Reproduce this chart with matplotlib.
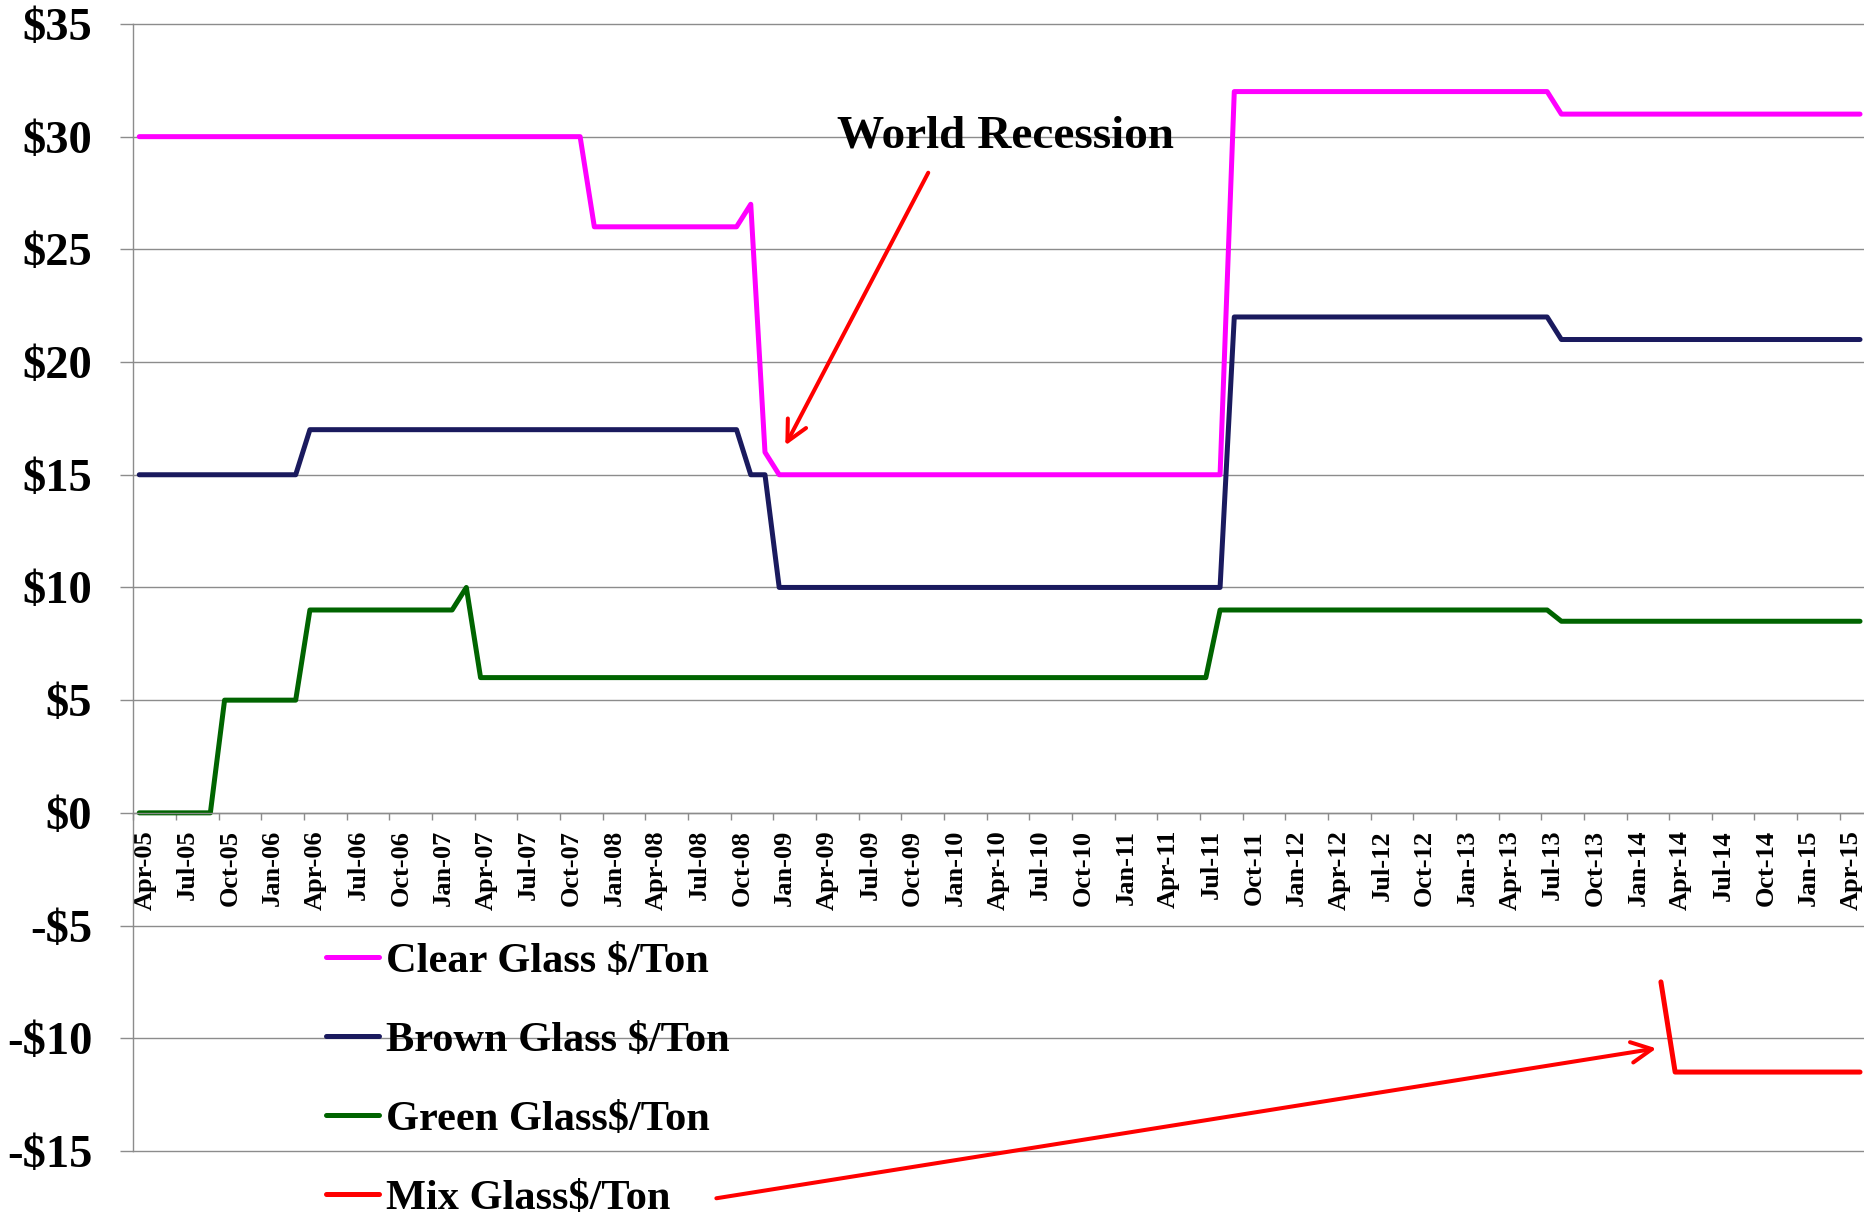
import numpy as np
import matplotlib
matplotlib.use('Agg')
import matplotlib.pyplot as plt

# quarterly tick labels on the category axis
tick_labels = ['Apr-05', 'Jul-05', 'Oct-05', 'Jan-06', 'Apr-06', 'Jul-06', 'Oct-06',
               'Jan-07', 'Apr-07', 'Jul-07', 'Oct-07', 'Jan-08', 'Apr-08', 'Jul-08',
               'Oct-08', 'Jan-09', 'Apr-09', 'Jul-09', 'Oct-09', 'Jan-10', 'Apr-10',
               'Jul-10', 'Oct-10', 'Jan-11', 'Apr-11', 'Jul-11', 'Oct-11', 'Jan-12',
               'Apr-12', 'Jul-12', 'Oct-12', 'Jan-13', 'Apr-13', 'Jul-13', 'Oct-13',
               'Jan-14', 'Apr-14', 'Jul-14', 'Oct-14', 'Jan-15', 'Apr-15']

# monthly prices, Apr-05 .. May-15 (one row = Apr..Mar)
clear_glass = [
    30, 30, 30, 30, 30, 30, 30, 30, 30, 30, 30, 30,
    30, 30, 30, 30, 30, 30, 30, 30, 30, 30, 30, 30,
    30, 30, 30, 30, 30, 30, 30, 30, 26, 26, 26, 26,
    26, 26, 26, 26, 26, 26, 26, 27, 16, 15, 15, 15,
    15, 15, 15, 15, 15, 15, 15, 15, 15, 15, 15, 15,
    15, 15, 15, 15, 15, 15, 15, 15, 15, 15, 15, 15,
    15, 15, 15, 15, 15, 32, 32, 32, 32, 32, 32, 32,
    32, 32, 32, 32, 32, 32, 32, 32, 32, 32, 32, 32,
    32, 32, 32, 32, 31, 31, 31, 31, 31, 31, 31, 31,
    31, 31, 31, 31, 31, 31, 31, 31, 31, 31, 31, 31,
    31, 31,
]
brown_glass = [
    15, 15, 15, 15, 15, 15, 15, 15, 15, 15, 15, 15,
    17, 17, 17, 17, 17, 17, 17, 17, 17, 17, 17, 17,
    17, 17, 17, 17, 17, 17, 17, 17, 17, 17, 17, 17,
    17, 17, 17, 17, 17, 17, 17, 15, 15, 10, 10, 10,
    10, 10, 10, 10, 10, 10, 10, 10, 10, 10, 10, 10,
    10, 10, 10, 10, 10, 10, 10, 10, 10, 10, 10, 10,
    10, 10, 10, 10, 10, 22, 22, 22, 22, 22, 22, 22,
    22, 22, 22, 22, 22, 22, 22, 22, 22, 22, 22, 22,
    22, 22, 22, 22, 21, 21, 21, 21, 21, 21, 21, 21,
    21, 21, 21, 21, 21, 21, 21, 21, 21, 21, 21, 21,
    21, 21,
]
green_glass = [
    0, 0, 0, 0, 0, 0, 5, 5, 5, 5, 5, 5,
    9, 9, 9, 9, 9, 9, 9, 9, 9, 9, 9, 10,
    6, 6, 6, 6, 6, 6, 6, 6, 6, 6, 6, 6,
    6, 6, 6, 6, 6, 6, 6, 6, 6, 6, 6, 6,
    6, 6, 6, 6, 6, 6, 6, 6, 6, 6, 6, 6,
    6, 6, 6, 6, 6, 6, 6, 6, 6, 6, 6, 6,
    6, 6, 6, 6, 9, 9, 9, 9, 9, 9, 9, 9,
    9, 9, 9, 9, 9, 9, 9, 9, 9, 9, 9, 9,
    9, 9, 9, 9, 8.5, 8.5, 8.5, 8.5, 8.5, 8.5, 8.5, 8.5,
    8.5, 8.5, 8.5, 8.5, 8.5, 8.5, 8.5, 8.5, 8.5, 8.5, 8.5, 8.5,
    8.5, 8.5,
]
# mix glass only reported from Mar-14 on
mix_start = 107
mix_glass = [-7.5, -11.5, -11.5, -11.5, -11.5, -11.5, -11.5, -11.5,
             -11.5, -11.5, -11.5, -11.5, -11.5, -11.5, -11.5]

plt.rcParams['font.family'] = ['Liberation Serif', 'DejaVu Serif']
plt.rcParams['font.weight'] = 'bold'
plt.rcParams['text.parse_math'] = False

grey = '#8C8C8C'

fig = plt.figure(figsize=(18.64, 12.16), dpi=100)
ax = fig.add_axes([0.0715, 0.0535, 0.9285, 0.9268])

# spine position first, it resets the ticks
for s in ['top', 'right']:
    ax.spines[s].set_visible(False)
ax.spines['left'].set_color(grey)
ax.spines['left'].set_linewidth(1.0)
ax.spines['bottom'].set_color(grey)
ax.spines['bottom'].set_linewidth(1.0)
ax.spines['bottom'].set_position(('data', 0))

x = np.arange(len(clear_glass)) + 0.42
line_kw = dict(lw=3.6, solid_capstyle='round', solid_joinstyle='round')
ax.plot(x, clear_glass, color='#FF00FF', label='Clear Glass $/Ton', **line_kw)
ax.plot(x, brown_glass, color='#1A1A5E', label='Brown Glass $/Ton', **line_kw)
ax.plot(x, green_glass, color='#006400', label='Green Glass$/Ton', **line_kw)
ax.plot(x[mix_start:mix_start + len(mix_glass)], mix_glass, color='#FF0000',
        label='Mix Glass$/Ton', **line_kw)

ax.set_xlim(0, 121.7)
ax.set_ylim(-15, 35)

ax.tick_params(axis='y', length=9.5, width=1.0, color=grey, pad=20, labelsize=33.5)
ax.tick_params(axis='x', length=5.3, width=1.0, color=grey, pad=7, labelsize=19)

yt = np.arange(-15, 36, 5)
ax.set_yticks(yt)
ax.set_yticklabels(['$%d' % v if v >= 0 else '-$%d' % -v for v in yt])
ax.set_xticks(np.arange(0, 121, 3))
ax.set_xticklabels(tick_labels, rotation=90, ha='left', va='top')

ax.yaxis.grid(True, color=grey, lw=1.0)
for gl in ax.get_ygridlines():
    gl.set_clip_on(False)
ax.set_axisbelow(True)

ax.legend(loc='upper left', bbox_to_anchor=(0.175, 0.225), bbox_transform=fig.transFigure,
          frameon=False, fontsize=30.5, handlelength=1.25, handletextpad=0.15,
          labelspacing=0.95, borderpad=0, borderaxespad=0)

ax.text(49.5, 29.5, 'World Recession', fontsize=34, va='baseline', ha='left')

arrow_kw = dict(arrowstyle='->,head_length=0.4,head_width=0.2', color='#FF0000',
                lw=2.9, mutation_scale=37, shrinkA=0, shrinkB=0)
a1 = ax.annotate('', xy=(45.85, 16.3), xytext=(55.9, 28.4), arrowprops=arrow_kw,
                 annotation_clip=False)
a2 = ax.annotate('', xy=(107.1, -10.45), xytext=(41.0, -17.1), arrowprops=arrow_kw,
                 annotation_clip=False)
a1.arrow_patch.set_clip_on(False)
a2.arrow_patch.set_clip_on(False)

fig.savefig('out.png', dpi=100)
